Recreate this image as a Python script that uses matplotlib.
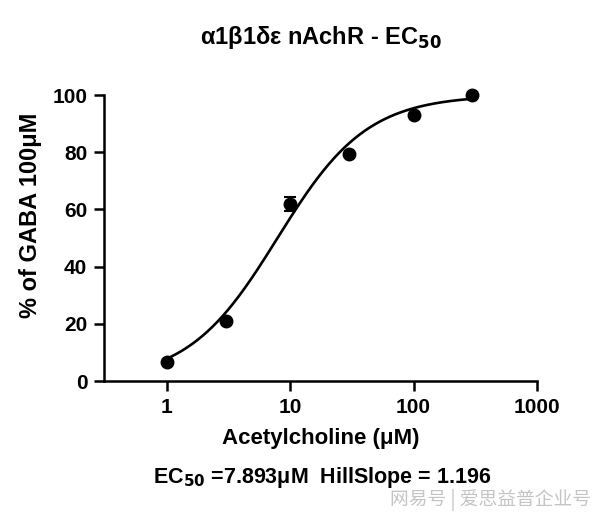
import matplotlib
matplotlib.use("Agg")
import matplotlib.pyplot as plt
import numpy as np

# measured points
conc = [1, 3, 10, 30, 100, 300]
response = [6.6, 20.9, 62.0, 79.3, 93.2, 100.0]
err = [0, 0, 2.4, 0, 0, 0]

# fit parameters shown on the chart
ec50 = 7.893
hill = 1.196
bottom, top = 0.0, 100.0

x_ticks = [1, 10, 100, 1000]
x_ticklabels = ["1", "10", "100", "1000"]
y_ticks = [0, 20, 40, 60, 80, 100]

plt.rcParams["font.family"] = ["Liberation Sans", "DejaVu Sans"]

fig = plt.figure(figsize=(6.06, 5.17), dpi=100)
ax = fig.add_axes([0.1716, 0.263, 0.7145, 0.553])

xs = np.logspace(np.log10(conc[0]), np.log10(conc[-1]), 300)
fit = bottom + (top - bottom) / (1 + (ec50 / xs) ** hill)
ax.plot(xs, fit, color="black", linewidth=1.9, zorder=2, clip_on=False)

eb = ax.errorbar(conc, response, yerr=err, fmt="o", color="black", markersize=9,
                 capsize=4, elinewidth=1.5, capthick=1.5, zorder=3)
for artist in eb.lines[0:1] + tuple(eb.lines[1]) + tuple(eb.lines[2]):
    artist.set_clip_on(False)

ax.set_xscale("log")
ax.set_xlim(0.31, 1000)
ax.set_ylim(0, 100)
ax.set_xticks(x_ticks)
ax.set_xticklabels(x_ticklabels)
ax.minorticks_off()
ax.set_yticks(y_ticks)

for side in ("top", "right"):
    ax.spines[side].set_visible(False)
for side in ("left", "bottom"):
    ax.spines[side].set_linewidth(1.8)
ax.tick_params(axis="both", width=1.8, length=7, labelsize=15, pad=5)
for lab in ax.get_xticklabels() + ax.get_yticklabels():
    lab.set_fontweight("bold")

ax.set_xlabel("Acetylcholine (\u03bcM)", fontsize=16, fontweight="bold", labelpad=8)
ax.set_ylabel("% of GABA 100\u03bcM", fontsize=17, fontweight="bold")
ax.yaxis.set_label_coords(-0.143, 0.58)
ax.set_title("\u03b11\u03b21\u03b4\u03b5 nAchR - EC$_{\\mathbf{50}}$",
             fontsize=17, fontweight="bold", pad=37)

fig.text(0.532, 0.076, "EC$_{\\mathbf{50}}$ =7.893\u03bcM  HillSlope = 1.196",
         ha="center", va="center", fontsize=15.5, fontweight="bold")
fig.text(0.976, 0.032, "网易号 | 爱思益普企业号", ha="right", va="center", fontsize=13.5,
         color="#c4c4c4", family=["Noto Sans CJK SC", "DejaVu Sans"])

fig.savefig("out.png", dpi=100)
